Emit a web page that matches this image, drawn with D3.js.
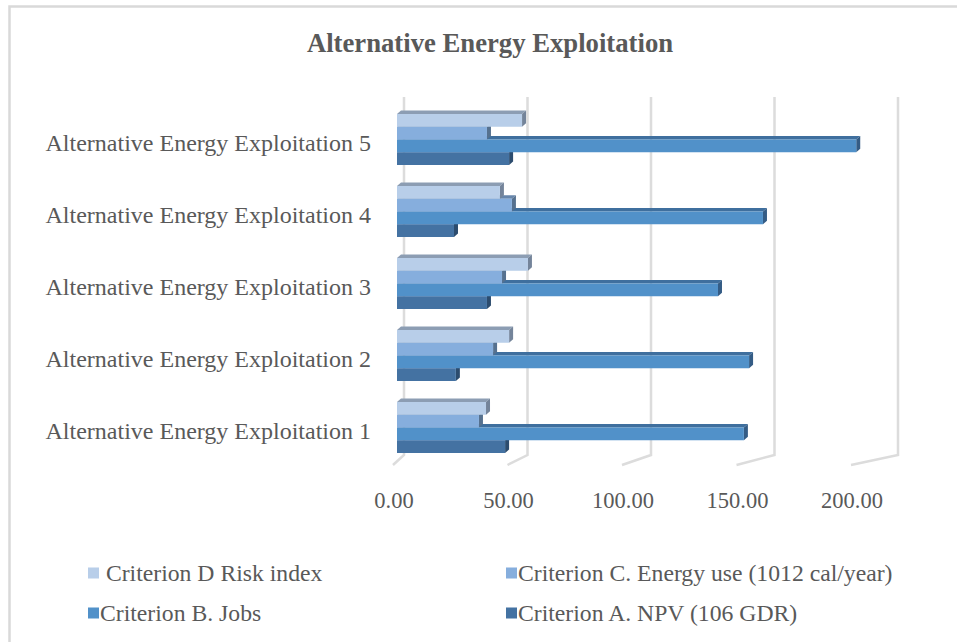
<!DOCTYPE html>
<html>
<head>
<meta charset="utf-8">
<script src="https://cdn.jsdelivr.net/npm/d3@7"></script>
<style>
  html, body { margin: 0; padding: 0; background: #fff; }
  svg { display: block; }
  text { font-family: "Liberation Serif", "Times New Roman", serif; fill: #595959; }
</style>
</head>
<body>
<svg id="chart" width="957" height="642"></svg>
<script>
// Alternatives, listed bottom to top on the chart
const categories = [
  "Alternative Energy Exploitation 1",
  "Alternative Energy Exploitation 2",
  "Alternative Energy Exploitation 3",
  "Alternative Energy Exploitation 4",
  "Alternative Energy Exploitation 5"
];

// Criterion values per alternative (same order as categories)
const criterionA = [45.9, 25.0, 38.2, 24.2, 47.6];     // NPV (106 GDR)
const criterionB = [147.3, 149.5, 136.3, 155.4, 195.0]; // Jobs
const criterionC = [34.8, 40.8, 44.6, 48.8, 38.2];     // Energy use (1012 cal/year)
const criterionD = [37.8, 47.6, 55.6, 43.7, 53.1];     // Risk index

const seriesNames = [
  "Criterion A. NPV (106 GDR)",
  "Criterion B. Jobs",
  "Criterion C. Energy use (1012 cal/year)",
  " Criterion D Risk index"
];

const axisTicks = [0, 50, 100, 150, 200];
const chartTitle = "Alternative Energy Exploitation";

// Face colours per series: front, top, side
const palette = [
  { front: "#4472a2", top: "#355b82", side: "#2c4c6e" }, // A
  { front: "#5191c9", top: "#3f6f9e", side: "#345c85" }, // B
  { front: "#86aedd", top: "#6786ab", side: "#56718f" }, // C
  { front: "#b8cee9", top: "#8c9db3", side: "#74849a" }  // D
];

const series = [criterionA, criterionB, criterionC, criterionD];

const svg = d3.select("#chart");

// Outer frame
svg.append("rect")
  .attr("x", 9.5).attr("y", 6.5)
  .attr("width", 960).attr("height", 660)
  .attr("fill", "none").attr("stroke", "#d9d9d9").attr("stroke-width", 2.5);

// Title
svg.append("text")
  .attr("x", 490).attr("y", 52)
  .attr("text-anchor", "middle")
  .style("font-size", "26.7px").style("font-weight", "bold")
  .text(chartTitle);

// Three value scales: back wall, bar plane and front floor edge
const xBack = d3.scaleLinear().domain([0, 200]).range([404, 898]);
const xBar = d3.scaleLinear().domain([0, 200]).range([397, 868]);
const xFront = d3.scaleLinear().domain([0, 200]).range([393, 851]);

const wallTop = 97, wallBottom = 455, floorFront = 465;

// Back wall gridlines and floor ticks
const grid = svg.append("g").attr("stroke", "#dcdcdc").attr("stroke-width", 2.5).attr("fill", "none");
axisTicks.forEach(t => {
  grid.append("path")
    .attr("d", `M${xBack(t)},${wallTop} L${xBack(t)},${wallBottom} L${xFront(t)},${floorFront}`);
});

// Category bands (top = last alternative)
const y = d3.scaleBand()
  .domain(categories.slice().reverse())
  .range([103.5, 463.5])
  .paddingInner(21 / 72)
  .paddingOuter(21 / 144);

// Series order inside a band, top to bottom: D, C, B, A
const ySub = d3.scaleBand()
  .domain([3, 2, 1, 0])
  .range([0, y.bandwidth()]);

const depthX = 4, depthY = -3.5;

const barsG = svg.append("g");
categories.forEach((cat, ci) => {
  const g = barsG.append("g").attr("transform", `translate(0,${y(cat)})`);
  // draw bottom series first so upper bars sit over lower top faces
  [0, 1, 2, 3].forEach(si => {
    const v = series[si][ci];
    const x0 = xBar(0), x1 = xBar(v);
    const y0 = ySub(si), h = ySub.bandwidth();
    const c = palette[si];
    // top face
    g.append("path")
      .attr("d", `M${x0},${y0} L${x0 + depthX},${y0 + depthY} L${x1 + depthX},${y0 + depthY} L${x1},${y0} Z`)
      .attr("fill", c.top);
    // side face
    g.append("path")
      .attr("d", `M${x1},${y0} L${x1 + depthX},${y0 + depthY} L${x1 + depthX},${y0 + h + depthY} L${x1},${y0 + h} Z`)
      .attr("fill", c.side);
    // front face
    g.append("rect")
      .attr("x", x0).attr("y", y0)
      .attr("width", x1 - x0).attr("height", h)
      .attr("fill", c.front);
  });
});

// Category labels
svg.append("g").selectAll("text")
  .data(categories)
  .join("text")
  .attr("x", 371)
  .attr("y", d => y(d) + y.bandwidth() / 2 + 11)
  .attr("text-anchor", "end")
  .style("font-size", "24px")
  .text(d => d);

// Value axis labels along the front edge
svg.append("g").selectAll("text")
  .data(axisTicks)
  .join("text")
  .attr("x", d => xFront(d) + 1)
  .attr("y", 508)
  .attr("text-anchor", "middle")
  .style("font-size", "22.5px")
  .text(d => d3.format(".2f")(d));

// Legend: two rows, two columns
const legendItems = [
  { si: 3, x: 88, y: 573 },
  { si: 2, x: 506, y: 573 },
  { si: 1, x: 88, y: 613 },
  { si: 0, x: 506, y: 613 }
];
const legend = svg.append("g");
legendItems.forEach(it => {
  legend.append("rect")
    .attr("x", it.x).attr("y", it.y - 5.5)
    .attr("width", 11).attr("height", 11)
    .attr("fill", palette[it.si].front);
  legend.append("text")
    .attr("x", it.x + 12).attr("y", it.y + 8)
    .style("font-size", "23.7px")
    .attr("xml:space", "preserve")
    .text(seriesNames[it.si]);
});
</script>
</body>
</html>
